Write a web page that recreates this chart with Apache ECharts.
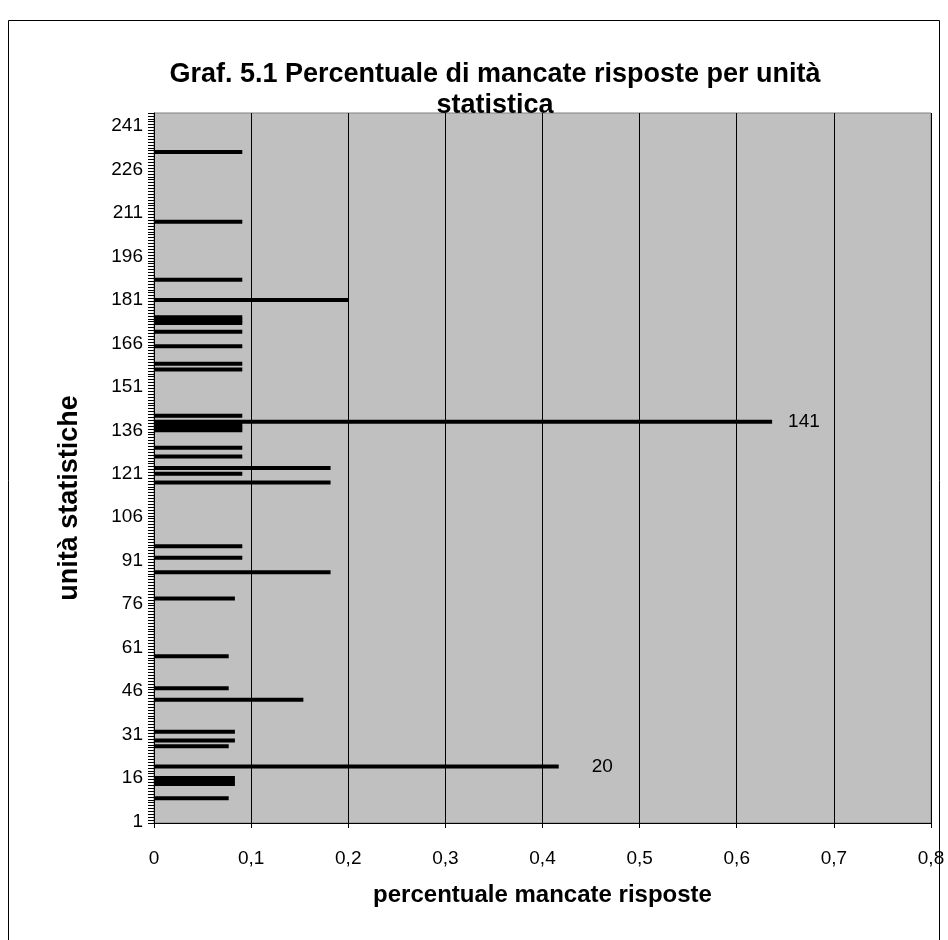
<!DOCTYPE html>
<html>
<head>
<meta charset="utf-8">
<script src="https://cdn.jsdelivr.net/npm/echarts@6/dist/echarts.min.js"></script>
<style>
html,body{margin:0;padding:0;background:#fff;}
#c{width:948px;height:940px;}
</style>
</head>
<body>
<div id="c"></div>
<script>
// ---- data ----
const titleText = 'Graf. 5.1 Percentuale di mancate risposte per unità\nstatistica';
const xAxisTitle = 'percentuale mancate risposte';
const yAxisTitle = 'unità statistiche';
const unitCount = 245;
const xTicks = [0, 0.1, 0.2, 0.3, 0.4, 0.5, 0.6, 0.7, 0.8];
const barUnits = [9, 14, 15, 16, 20, 27, 29, 32, 43, 47, 58, 78, 87, 92, 96, 118, 121, 123, 127, 130,
                  136, 137, 138, 139, 141, 157, 159, 165, 170, 173, 174, 175, 181, 188, 208, 232];
const barValues = [0.0769, 0.0833, 0.0833, 0.0833, 0.4167, 0.0769, 0.0833, 0.0833, 0.1538, 0.0769,
                   0.0769, 0.0833, 0.1818, 0.0909, 0.0909, 0.1818, 0.0909, 0.1818, 0.0909, 0.0909,
                   0.0909, 0.0909, 0.0909, 0.6364, 0.0909, 0.0909, 0.0909, 0.0909, 0.0909, 0.0909,
                   0.0909, 0.0909, 0.2, 0.0909, 0.0909, 0.0909];
const labelUnits = [139, 20];
const labelTexts = ['141', '20'];

// ---- build ----
const categories = [];
for (let i = 1; i <= unitCount; i++) categories.push(String(i));
const labelDist = {139: 16, 20: 33};
const FONT = 'Liberation Sans, Arial, sans-serif';
const seriesData = categories.map(function (c) {
  const u = Number(c);
  const k = barUnits.indexOf(u);
  if (k < 0) return '-';
  const item = {value: barValues[k]};
  const li = labelUnits.indexOf(u);
  if (li >= 0) {
    item.label = {show: true, position: 'right', distance: labelDist[u], formatter: labelTexts[li],
      color: '#000', fontSize: 19, fontFamily: FONT};
  }
  return item;
});

const chart = echarts.init(document.getElementById('c'), null, {renderer: 'canvas'});
chart.setOption({
  animation: false,
  backgroundColor: '#fff',
  title: {
    text: titleText,
    left: 490, top: 54, textAlign: 'center',
    textStyle: {fontFamily: FONT, fontSize: 27, fontWeight: 'bold', color: '#000', lineHeight: 31}
  },
  graphic: [
    {type: 'rect', shape: {x: 8.5, y: 20.5, width: 931, height: 930}, style: {fill: 'none', stroke: '#000', lineWidth: 1}, z: -1},
    {type: 'text', x: 70, y: 498, rotation: Math.PI / 2,
     style: {text: yAxisTitle, fontFamily: FONT, fontSize: 27, fontWeight: 'bold', fill: '#000', textAlign: 'center', textVerticalAlign: 'middle'}}
  ],
  grid: {left: 154, right: 17, top: 113, bottom: 117, show: true, backgroundColor: '#C0C0C0', borderColor: '#808080', borderWidth: 1},
  xAxis: {
    type: 'value', min: xTicks[0], max: xTicks[xTicks.length - 1], interval: 0.1,
    name: xAxisTitle, nameLocation: 'middle', nameGap: 60,
    nameTextStyle: {fontFamily: FONT, fontSize: 24, fontWeight: 'bold', color: '#000'},
    axisLine: {show: true, lineStyle: {color: '#000', width: 1}},
    axisTick: {show: true, length: 5, lineStyle: {color: '#000'}},
    axisLabel: {margin: 26, fontFamily: FONT, fontSize: 19, color: '#000',
      formatter: function (v) { return String(Math.round(v * 10) / 10).replace('.', ','); }},
    splitLine: {show: true, lineStyle: {color: '#000', width: 1}}
  },
  yAxis: {
    type: 'category', data: categories,
    axisLine: {show: true, lineStyle: {color: '#000', width: 1}},
    axisTick: {show: true, interval: 0, length: 6, lineStyle: {color: '#000'}},
    axisLabel: {interval: 14, margin: 11, fontFamily: FONT, fontSize: 19, color: '#000'},
    splitLine: {show: false}
  },
  series: [{
    type: 'bar', data: seriesData, barWidth: 4,
    itemStyle: {color: '#000'}
  }]
});
</script>
</body>
</html>
